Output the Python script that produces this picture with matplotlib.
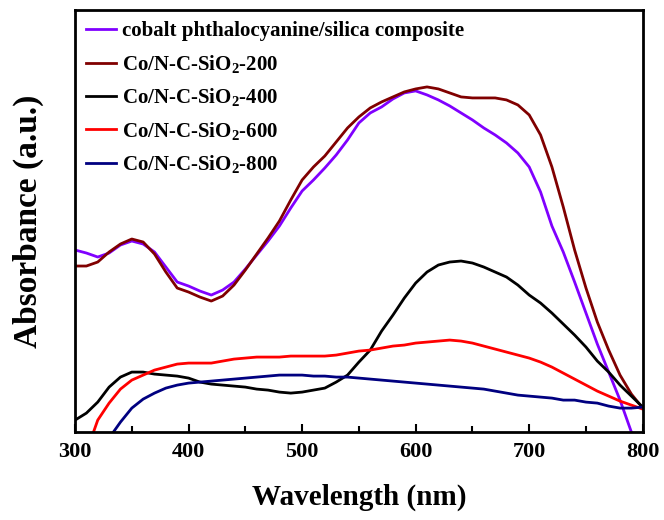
import numpy as np
import matplotlib
matplotlib.use('Agg')
import matplotlib.pyplot as plt
from matplotlib.ticker import MultipleLocator

plt.rcParams['font.family'] = ['Liberation Serif', 'DejaVu Serif']
plt.rcParams['font.weight'] = 'bold'
plt.rcParams['mathtext.fontset'] = 'custom'
plt.rcParams['mathtext.rm'] = 'Liberation Serif:bold'
plt.rcParams['mathtext.it'] = 'Liberation Serif:bold'
plt.rcParams['mathtext.bf'] = 'Liberation Serif:bold'

# wavelength grid (nm)
wl = np.arange(300, 801, 10)

# absorbance, arbitrary units
copc_silica = [182, 179, 175, 179, 187, 191, 188, 180, 165, 150, 146, 141, 137, 142, 150,
               163, 177, 191, 206, 224, 241, 252, 264, 277, 292, 309, 319, 325, 333, 339,
               341, 337, 332, 326, 319, 312, 304, 297, 289, 279, 265, 240, 206, 180, 150,
               119, 88, 60, 32, 0, -30]
co_200 = [166, 166, 170, 180, 188, 193, 190, 178, 160, 144, 140, 135, 131, 136, 147,
          162, 178, 194, 211, 232, 252, 265, 276, 290, 304, 315, 324, 330, 335, 340,
          343, 345, 343, 339, 335, 334, 334, 334, 332, 327, 317, 297, 265, 225, 182,
          144, 110, 82, 57, 38, 24]
co_400 = [12, 19, 30, 45, 55, 60, 60, 58, 57, 56, 54, 50, 48, 47, 46,
          45, 43, 42, 40, 39, 40, 42, 44, 50, 57, 70, 82, 101, 117, 134,
          149, 160, 167, 170, 171, 169, 165, 160, 155, 147, 137, 129, 119, 108, 97,
          85, 71, 60, 47, 36, 25]

wl_600 = np.arange(310, 801, 10)
co_600 = [-20, 12, 29, 43, 52, 57, 62, 65, 68, 69, 69, 69, 71, 73, 74,
          75, 75, 75, 76, 76, 76, 76, 77, 79, 81, 82, 84, 86, 87, 89,
          90, 91, 92, 91, 89, 86, 83, 80, 77, 74, 70, 65, 59, 53, 47,
          41, 36, 31, 27, 23]

wl_800 = np.arange(330, 801, 10)
co_800 = [-6, 10, 24, 33, 39, 44, 47, 49, 50, 51, 52, 53, 54, 55, 56,
          57, 57, 57, 56, 56, 55, 55, 54, 53, 52, 51, 50, 49, 48, 47,
          46, 45, 44, 43, 41, 39, 37, 36, 35, 34, 32, 32, 30, 29, 26,
          24, 24, 25]

fig = plt.figure(figsize=(6.64, 5.2), dpi=100)
ax = fig.add_axes([0.113, 0.169, 0.855, 0.812])

lw = 2.0
ax.plot(wl, copc_silica, color='#8000ff', lw=lw, label='cobalt phthalocyanine/silica composite')
ax.plot(wl, co_200, color='#800000', lw=lw, label='Co/N-C-SiO$_2$-200')
ax.plot(wl, co_400, color='black', lw=lw, label='Co/N-C-SiO$_2$-400')
ax.plot(wl_600, co_600, color='#ff0000', lw=lw, label='Co/N-C-SiO$_2$-600')
ax.plot(wl_800, co_800, color='#000080', lw=lw, label='Co/N-C-SiO$_2$-800')

ax.set_xlim(300, 800)
ax.set_ylim(0, 422)
ax.xaxis.set_major_locator(MultipleLocator(100))
ax.xaxis.set_minor_locator(MultipleLocator(50))
ax.set_yticks([])
ax.tick_params(axis='x', which='major', direction='in', length=6, width=1.5,
               labelsize=16, pad=7)
ax.tick_params(axis='x', which='minor', direction='in', length=4, width=1.5)
for sp in ax.spines.values():
    sp.set_linewidth(2)

ax.set_xlabel('Wavelength (nm)', fontsize=21, fontweight='bold', labelpad=16)
ax.set_ylabel('Absorbance (a.u.)', fontsize=24, fontweight='bold', labelpad=22)

ax.legend(loc='upper left', frameon=False, handlelength=1.4,
          handletextpad=0.3, labelspacing=0.55, borderaxespad=0.1, borderpad=0.45,
          prop={'weight': 'bold', 'size': 15})

fig.savefig('out.png', dpi=100)
